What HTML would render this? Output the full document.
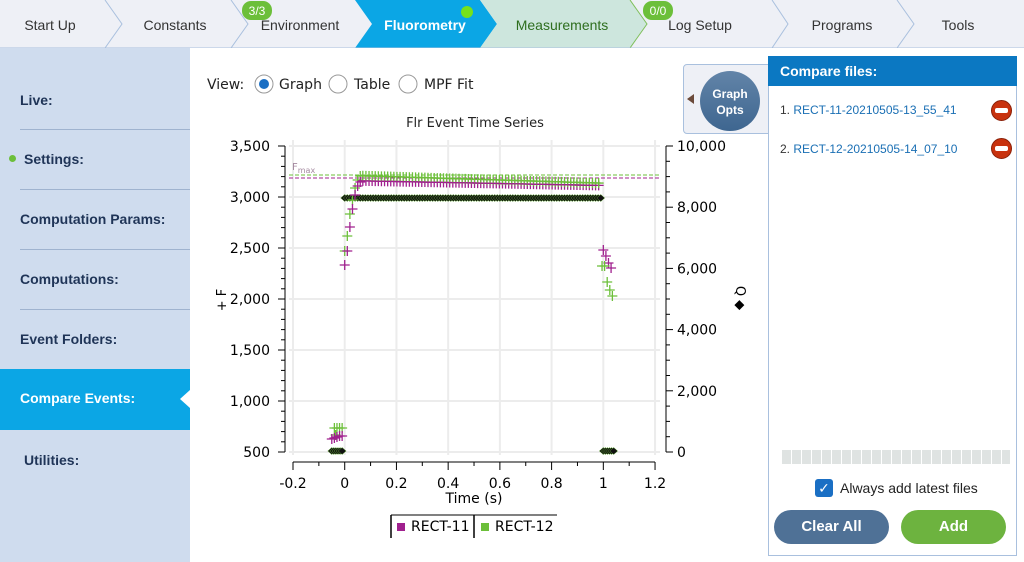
<!DOCTYPE html>
<html><head><meta charset="utf-8"><style>
*{margin:0;padding:0;box-sizing:border-box}
body{width:1024px;height:562px;overflow:hidden;background:#fff;font-family:"Liberation Sans","DejaVu Sans",sans-serif;position:relative}
.abs{position:absolute}
.side{left:0;top:48px;width:190px;height:514px;background:#cfdcee}
.si{position:absolute;left:20px;font-size:14px;font-weight:bold;color:#1f3457}
.sep{position:absolute;left:20px;width:170px;height:1px;background:#9fb3cf}
</style></head><body>
<svg class="abs" style="left:0;top:0" width="1024" height="48">
<rect width="1024" height="48" fill="#eef0f6"/>
<polygon points="355,0 480,0 497,24 480,48 355,48 372,24" fill="#0ba6e5"/>
<polygon points="480,0 630,0 647,24 630,48 480,48 497,24" fill="#cde6dd"/>
<g fill="none" stroke="#a9c0de" stroke-width="1">
<polyline points="105,0 122,24 105,48"/><polyline points="231,0 248,24 231,48"/>
<polyline points="772,0 788,24 772,48"/><polyline points="897,0 914,24 897,48"/>
</g>
<polyline points="630,0 647,24 630,48" fill="none" stroke="#7fbf5a"/>
<line x1="0" y1="48" x2="1024" y2="48" stroke="#a9c0de"/>
<g font-family="Liberation Sans,sans-serif" font-size="14" fill="#333" text-anchor="middle">
<text x="50" y="30">Start Up</text><text x="175" y="30">Constants</text><text x="300" y="30">Environment</text>
<text x="425" y="30" fill="#fff" font-weight="bold">Fluorometry</text>
<text x="562" y="30" fill="#2e6e1e">Measurements</text>
<text x="700" y="30">Log Setup</text><text x="842" y="30">Programs</text><text x="958" y="30">Tools</text>
</g>
<rect x="242" y="1" width="30" height="19" rx="9" fill="#6cbf3a"/><text x="257" y="15" font-size="12" fill="#fff" text-anchor="middle" font-family="Liberation Sans,sans-serif">3/3</text>
<rect x="643" y="1" width="30" height="19" rx="9" fill="#6cbf3a"/><text x="658" y="15" font-size="12" fill="#fff" text-anchor="middle" font-family="Liberation Sans,sans-serif">0/0</text>
<circle cx="467" cy="12" r="6" fill="#76e21a"/>
</svg>
<div class="abs side">
<div class="si" style="top:44px">Live:</div><div class="sep" style="top:81px"></div>
<div class="abs" style="left:9px;top:107px;width:7px;height:7px;border-radius:50%;background:#6cbf3a"></div>
<div class="si" style="top:103px;left:24px">Settings:</div><div class="sep" style="top:141px"></div>
<div class="si" style="top:163px">Computation Params:</div><div class="sep" style="top:201px"></div>
<div class="si" style="top:223px">Computations:</div><div class="sep" style="top:261px"></div>
<div class="si" style="top:283px">Event Folders:</div>
<div class="abs" style="left:0;top:321px;width:190px;height:61px;background:#0ba6e5"></div>
<div class="si" style="top:342px;color:#fff">Compare Events:</div>
<div class="abs" style="left:180px;top:342px;width:0;height:0;border-top:9px solid transparent;border-bottom:9px solid transparent;border-right:10px solid #fff"></div>
<div class="si" style="top:404px;left:24px">Utilities:</div>
</div>
<svg class="abs" style="left:190px;top:48px" width="834" height="514" font-family="DejaVu Sans,sans-serif">
<text x="17" y="41" font-size="14" fill="#222">View:</text>
<circle cx="74" cy="36" r="9" fill="#fff" stroke="#999"/><circle cx="74" cy="36" r="5" fill="#1a6fc4"/>
<text x="89" y="41" font-size="14" fill="#222">Graph</text>
<circle cx="148" cy="36" r="9" fill="#fff" stroke="#999"/><text x="164" y="41" font-size="14" fill="#222">Table</text>
<circle cx="218" cy="36" r="9" fill="#fff" stroke="#999"/><text x="234" y="41" font-size="14" fill="#222">MPF Fit</text>
</svg>
<svg id="plot" class="abs" style="left:0;top:0" width="1024" height="562" font-family="DejaVu Sans,sans-serif"></svg>
<div class="abs" style="left:683px;top:64px;width:90px;height:70px;border:1px solid #a9c0de;border-radius:4px;background:#eef0f6"></div>
<div class="abs" style="left:687px;top:94px;width:0;height:0;border-top:5px solid transparent;border-bottom:5px solid transparent;border-right:7px solid #6b4a3a"></div>
<div class="abs" style="left:700px;top:71px;width:60px;height:60px;border-radius:50%;background:linear-gradient(#6284a8,#3e6690);color:#fff;font-weight:bold;font-size:12px;text-align:center;padding-top:15px;line-height:16px">Graph<br>Opts</div>
<div class="abs" style="left:768px;top:56px;width:249px;height:500px;border:1px solid #a9c0de;background:#fff"></div>
<div class="abs" style="left:768px;top:56px;width:249px;height:30px;background:#0b78c2;color:#fff;font-weight:bold;font-size:14px;padding:7px 12px">Compare files:</div>
<div class="abs" style="left:780px;top:103px;font-size:12px;color:#333">1. <span style="color:#1a6fb4">RECT-11-20210505-13_55_41</span></div>
<div class="abs" style="left:780px;top:142px;font-size:12px;color:#333">2. <span style="color:#1a6fb4">RECT-12-20210505-14_07_10</span></div>
<div class="abs" style="left:991px;top:100px;width:21px;height:21px;border-radius:50%;background:#c8320e;border:1px solid #8a2008"><div style="margin:7px 3px;height:5px;background:#fff;border-radius:2px"></div></div>
<div class="abs" style="left:991px;top:138px;width:21px;height:21px;border-radius:50%;background:#c8320e;border:1px solid #8a2008"><div style="margin:7px 3px;height:5px;background:#fff;border-radius:2px"></div></div>
<div class="abs" style="left:782px;top:450px;width:228px;height:14px;background:repeating-linear-gradient(90deg,#dfe3e2 0 9px,#fff 9px 10px)"></div>
<div class="abs" style="left:815px;top:479px;width:18px;height:18px;border-radius:3px;background:#1a6fc4;color:#fff;font-size:14px;text-align:center;line-height:18px">✓</div>
<div class="abs" style="left:840px;top:480px;font-size:14px;color:#222">Always add latest files</div>
<div class="abs" style="left:774px;top:510px;width:115px;height:34px;border-radius:17px;background:#4f7196;color:#fff;font-weight:bold;font-size:15px;text-align:center;line-height:34px">Clear All</div>
<div class="abs" style="left:901px;top:510px;width:105px;height:34px;border-radius:17px;background:#6db33f;color:#fff;font-weight:bold;font-size:15px;text-align:center;line-height:34px">Add</div>
<script>
var s='';
function X(t){return 293+(t+0.2)*258.6}
function Y(v){return 452-(v-500)*0.102}
for(var t=-0.2;t<=1.21;t+=0.2){var x=X(t);s+='<line x1="'+x+'" y1="140" x2="'+x+'" y2="455" stroke="#ececec" stroke-width="2"/>';}
for(var v=500;v<=3500;v+=500){var y=Y(v);s+='<line x1="289" y1="'+y+'" x2="660" y2="'+y+'" stroke="#ececec" stroke-width="2"/>';}
s+='<text x="475" y="127" font-size="13" text-anchor="middle" fill="#222">Flr Event Time Series</text>';
s+='<line x1="285" y1="146" x2="285" y2="452" stroke="#000"/><line x1="666" y1="146" x2="666" y2="452" stroke="#000"/><line x1="293" y1="462" x2="655" y2="462" stroke="#000"/>';
for(var v=500;v<=3500;v+=100){var y=Y(v);var L=(v%500==0)?7:4;s+='<line x1="'+(285-L)+'" y1="'+y+'" x2="285" y2="'+y+'" stroke="#000"/>';}
for(var v=500;v<=3500;v+=500){s+='<text x="270" y="'+(Y(v)+5)+'" font-size="14" text-anchor="end">'+v.toLocaleString('en-US')+'</text>';}
for(var r=0;r<=10000;r+=500){var y=452-r*0.0306;var L=(r%2000==0)?7:4;s+='<line x1="666" y1="'+y+'" x2="'+(666+L)+'" y2="'+y+'" stroke="#000"/>';}
for(var r=0;r<=10000;r+=2000){s+='<text x="677" y="'+(452-r*0.0306+5)+'" font-size="14">'+r.toLocaleString('en-US')+'</text>';}
for(var i=0;i<=14;i++){var x=X(-0.2+i*0.1);var L=(i%2==0)?8:4;s+='<line x1="'+x+'" y1="462" x2="'+x+'" y2="'+(462+L)+'" stroke="#000"/>';}
var lb=['-0.2','0','0.2','0.4','0.6','0.8','1','1.2'];
for(var i=0;i<8;i++)s+='<text x="'+X(-0.2+i*0.2)+'" y="488" font-size="14" text-anchor="middle">'+lb[i]+'</text>';
s+='<text x="474" y="503" font-size="14" text-anchor="middle">Time (s)</text>';
s+='<text transform="translate(226,300) rotate(-90)" font-size="13" text-anchor="middle">+ F</text>';
s+='<text transform="translate(736,298) rotate(90)" font-size="13" text-anchor="middle">Q ◆</text>';
s+='<line x1="289" y1="175" x2="660" y2="175" stroke="#6cbf3a" stroke-dasharray="4,2"/><line x1="289" y1="178" x2="660" y2="178" stroke="#a0208e" stroke-dasharray="4,2"/>';
s+='<text x="292" y="170" font-size="10" fill="#a58aa0">F<tspan font-size="8" dy="3">max</tspan></text>';
function P(x,y,c){s+='<path d="M'+(x-5)+' '+y+'h10M'+x+' '+(y-5)+'v10" stroke="'+c+'" stroke-width="1.3"/>';}
function D(x,y){s+='<path d="M'+(x-4)+' '+y+'L'+x+' '+(y-3.5)+'L'+(x+4)+' '+y+'L'+x+' '+(y+3.5)+'Z" fill="#111" stroke="#5fa832" stroke-width="0.5"/>';}
for(var t=0;t<=1.0;t+=0.01)D(X(t),198);
for(var t=-0.05;t<=-0.01;t+=0.008)D(X(t),451);
for(var t=1.0;t<=1.045;t+=0.008)D(X(t),451);
var g='#6cbf3a',m='#a0208e';
[[-0.04,428],[-0.03,428],[-0.02,428],[-0.01,428],[-0.035,435]].forEach(function(a){P(X(a[0]),a[1],g)});
[[-0.05,439],[-0.04,438],[-0.03,437],[-0.02,436],[-0.01,436]].forEach(function(a){P(X(a[0]),a[1],m)});
[[0,251],[0.01,236],[0.02,214],[0.03,200],[0.04,188],[0.05,180],[0.06,176]].forEach(function(a){P(X(a[0]),a[1],g)});
[[0,265],[0.01,251],[0.02,227],[0.03,209],[0.04,195],[0.05,186],[0.06,182]].forEach(function(a){P(X(a[0]),a[1],m)});
for(var t=0.07;t<=0.99;t+=0.012){P(X(t),181+(t-0.1)*5,m);P(X(t),176+(t-0.1)*8,g);}
[[1.0,250],[1.01,256],[1.02,263],[1.03,268]].forEach(function(a){P(X(a[0]),a[1],m)});
[[0.995,266],[1.005,266],[1.015,282],[1.025,290],[1.035,296]].forEach(function(a){P(X(a[0]),a[1],g)});
s+='<line x1="391" y1="515" x2="391" y2="538" stroke="#000" stroke-width="1.5"/><line x1="391" y1="515" x2="557" y2="515" stroke="#000"/><line x1="474" y1="515" x2="474" y2="538" stroke="#000" stroke-width="1.5"/>';
s+='<rect x="397" y="523" width="8" height="8" fill="#a0208e"/><text x="411" y="531" font-size="14">RECT-11</text>';
s+='<rect x="481" y="523" width="8" height="8" fill="#6cbf3a"/><text x="495" y="531" font-size="14">RECT-12</text>';
document.getElementById('plot').innerHTML=s;
</script>
</body></html>
